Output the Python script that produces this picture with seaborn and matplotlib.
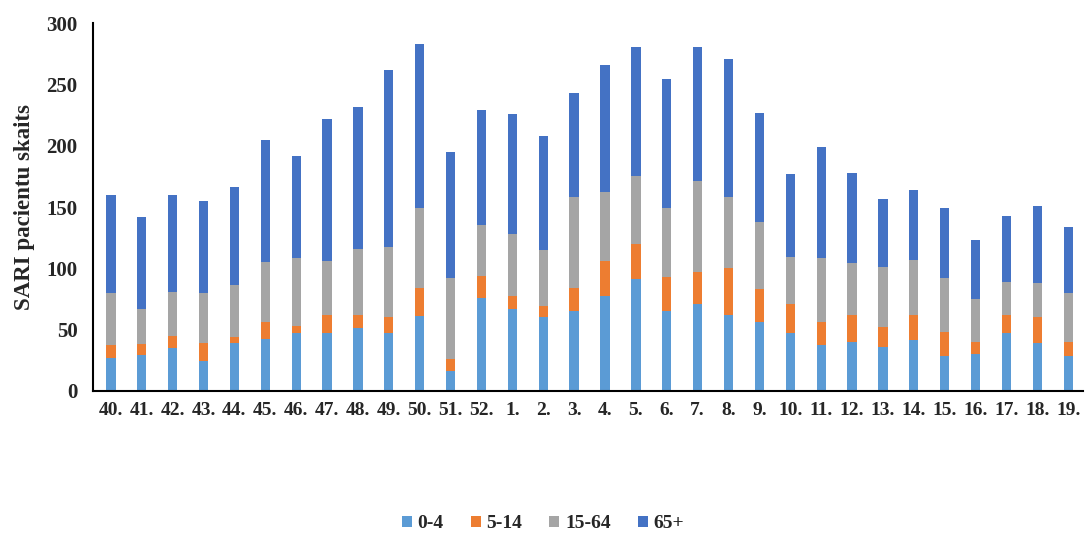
import numpy as np
import pandas as pd
import matplotlib
matplotlib.use("Agg")
import matplotlib.pyplot as plt
import seaborn as sns

weeks = ["40.", "41.", "42.", "43.", "44.", "45.", "46.", "47.", "48.", "49.", "50.", "51.", "52.",
         "1.", "2.", "3.", "4.", "5.", "6.", "7.", "8.", "9.", "10.", "11.", "12.", "13.", "14.",
         "15.", "16.", "17.", "18.", "19."]

age_0_4 = [27, 29, 35, 24, 39, 42, 47, 47, 51, 47, 61, 16, 76,
           67, 60, 65, 77, 91, 65, 71, 62, 56, 47, 37, 40, 36, 41,
           28, 30, 47, 39, 28]
age_5_14 = [10, 9, 10, 15, 5, 14, 6, 15, 11, 13, 23, 10, 18,
            10, 9, 19, 29, 29, 28, 26, 38, 27, 24, 19, 22, 16, 21,
            20, 10, 15, 21, 12]
age_15_64 = [43, 29, 36, 41, 42, 49, 55, 44, 54, 57, 65, 66, 41,
             51, 46, 74, 56, 55, 56, 74, 58, 55, 38, 52, 42, 49, 45,
             44, 35, 27, 28, 40]
age_65 = [80, 75, 79, 75, 80, 100, 84, 116, 116, 145, 134, 103, 94,
          98, 93, 85, 104, 106, 106, 110, 113, 89, 68, 91, 74, 56, 57,
          57, 48, 54, 63, 54]

groups = ["0-4", "5-14", "15-64", "65+"]
series = [age_0_4, age_5_14, age_15_64, age_65]
colors = ["#5B9BD5", "#ED7D31", "#A5A5A5", "#4472C4"]

sns.set_style("white")
plt.rcParams["font.family"] = ["Liberation Serif", "DejaVu Serif"]
plt.rcParams["font.weight"] = "bold"

fig = plt.figure(figsize=(10.86, 5.33), dpi=100)
ax = fig.add_axes([0.0856, 0.267, 0.912, 0.689])

bottom = np.zeros(len(weeks))
for name, vals, col in zip(groups, series, colors):
    df = pd.DataFrame({"week": weeks, "n": vals})
    sns.barplot(data=df, x="week", y="n", bottom=bottom, color=col, width=0.3,
                label=name, ax=ax, saturation=1, linewidth=0)
    bottom = bottom + np.array(vals)

handles, labels = ax.get_legend_handles_labels()
if ax.get_legend() is not None:
    ax.get_legend().remove()

ax.set_ylim(0, 300)
ax.set_xlim(-0.58, len(weeks) - 0.51)
ax.set_yticks(range(0, 301, 50))
ax.set_xlabel("")
ax.set_ylabel("SARI pacientu skaits", fontsize=16.5, fontweight="bold")
ax.yaxis.set_label_coords(-0.059, 0.5)
ax.tick_params(axis="y", length=0, labelsize=15, pad=11)
ax.tick_params(axis="x", length=0, labelsize=14, pad=8)
for lab in ax.get_xticklabels() + ax.get_yticklabels():
    lab.set_fontweight("bold")

for s in ["top", "right"]:
    ax.spines[s].set_visible(False)
for s in ["left", "bottom"]:
    ax.spines[s].set_color("black")
    ax.spines[s].set_linewidth(1.5)

fig.legend(handles, labels, loc="center", bbox_to_anchor=(0.5, 0.017), ncol=4,
           frameon=False, fontsize=14, handlelength=0.5, handleheight=0.5,
           handletextpad=0.3, columnspacing=1.4, borderpad=0)

fig.savefig("out.png", dpi=100)
plt.close(fig)
